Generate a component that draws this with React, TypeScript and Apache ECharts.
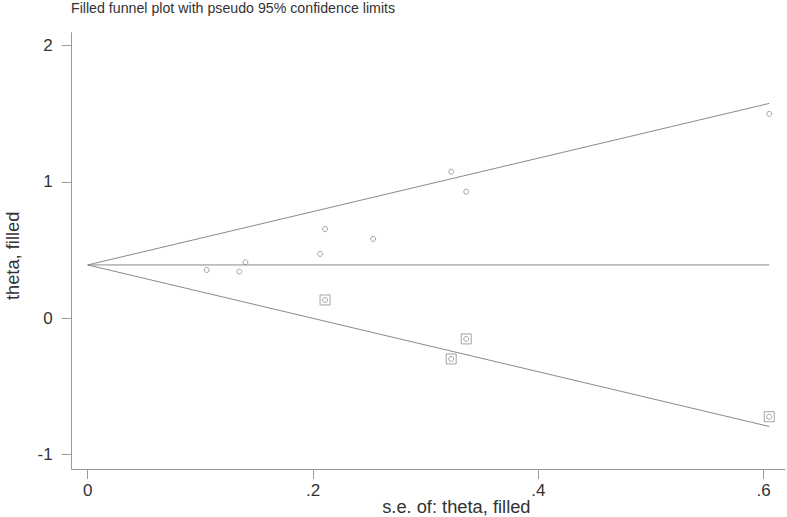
import React, { useEffect, useRef } from "react";
import * as echarts from "echarts";

// Observed studies (s.e., theta)
const observedSE = [0.1057, 0.1346, 0.14, 0.2063, 0.2107, 0.2534, 0.3227, 0.336, 0.605];
const observedTheta = [0.353, 0.341, 0.41, 0.471, 0.654, 0.581, 1.075, 0.928, 1.499];
// Filled (imputed) studies
const filledSE = [0.2107, 0.3227, 0.336, 0.605];
const filledTheta = [0.133, -0.3, -0.153, -0.724];
// Pooled estimate and pseudo 95% multiplier
const pooledTheta = 0.39;
const z95 = 1.96;

const xTicks = [0, 0.2, 0.4, 0.6];
const yTicks = [-1, 0, 1, 2];

const TEXT = "#333333";
const AXIS = "#9a9a9a";
const LINE = "#8a8a8a";
const FONT = "'Liberation Sans', Arial, sans-serif";

export default function App() {
  const ref = useRef<HTMLDivElement>(null);
  useEffect(() => {
    if (!ref.current) return;
    const chart = echarts.init(ref.current, undefined, { renderer: "svg" });
    const allSE = observedSE.concat(filledSE);
    const allTheta = observedTheta.concat(filledTheta);
    const seMax = Math.max(...allSE);
    const points = allSE.map((s, i) => [s, allTheta[i]]);
    const filled = filledSE.map((s, i) => [s, filledTheta[i]]);
    chart.setOption({
      animation: false,
      title: {
        text: "Filled funnel plot with pseudo 95% confidence limits",
        left: 71,
        top: 1,
        padding: 0,
        textStyle: { fontFamily: FONT, fontSize: 14.2, fontWeight: "normal", color: TEXT },
      },
      grid: {
        left: 71.7,
        top: 32.7,
        right: 2,
        bottom: 48,
        containLabel: false,
        outerBoundsMode: "none",
      },
      xAxis: {
        type: "value",
        min: -0.0142,
        max: 0.619,
        name: "s.e. of: theta, filled",
        nameLocation: "middle",
        nameGap: 28,
        nameMoveOverlap: false,
        nameTextStyle: { fontFamily: FONT, fontSize: 18.3, color: TEXT, padding: [0, 0, 0, 56] },
        axisLine: { show: true, onZero: false, lineStyle: { color: AXIS, width: 1 } },
        axisTick: { show: true, length: 10, customValues: xTicks, lineStyle: { color: AXIS } },
        axisLabel: {
          customValues: xTicks,
          fontFamily: FONT,
          fontSize: 17,
          color: TEXT,
          margin: 13,
          formatter: (v: number) => (v === 0 ? "0" : String(v).replace(/^0/, "")),
        },
        splitLine: { show: false },
      },
      yAxis: {
        type: "value",
        min: -1.108,
        max: 2.095,
        name: "theta, filled",
        nameLocation: "middle",
        nameGap: 50,
        nameMoveOverlap: false,
        nameRotate: 90,
        nameTextStyle: { fontFamily: FONT, fontSize: 18.3, color: TEXT, padding: [0, 10, 0, 0] },
        axisLine: { show: true, onZero: false, lineStyle: { color: AXIS, width: 1 } },
        axisTick: { show: true, length: 10, customValues: yTicks, lineStyle: { color: AXIS } },
        axisLabel: {
          customValues: yTicks,
          fontFamily: FONT,
          fontSize: 17,
          color: TEXT,
          margin: 19,
        },
        splitLine: { show: false },
      },
      series: [
        {
          type: "line",
          data: [[0, pooledTheta], [seMax, pooledTheta]],
          symbol: "none",
          lineStyle: { color: LINE, width: 1 },
          silent: true,
        },
        {
          type: "line",
          data: [[0, pooledTheta], [seMax, pooledTheta + z95 * seMax]],
          symbol: "none",
          lineStyle: { color: LINE, width: 1 },
          silent: true,
        },
        {
          type: "line",
          data: [[0, pooledTheta], [seMax, pooledTheta - z95 * seMax]],
          symbol: "none",
          lineStyle: { color: LINE, width: 1 },
          silent: true,
        },
        {
          type: "scatter",
          data: points,
          symbol: "circle",
          symbolSize: 5,
          itemStyle: { color: "transparent", borderColor: "#8c8c8c", borderWidth: 1 },
        },
        {
          type: "scatter",
          data: filled,
          symbol: "rect",
          symbolSize: 10,
          itemStyle: { color: "transparent", borderColor: "#8c8c8c", borderWidth: 1 },
        },
      ],
    });
    return () => chart.dispose();
  }, []);
  return (
    <div
      ref={ref}
      style={{ position: "fixed", left: 0, top: 0, width: 787, height: 517, background: "#ffffff" }}
    />
  );
}
